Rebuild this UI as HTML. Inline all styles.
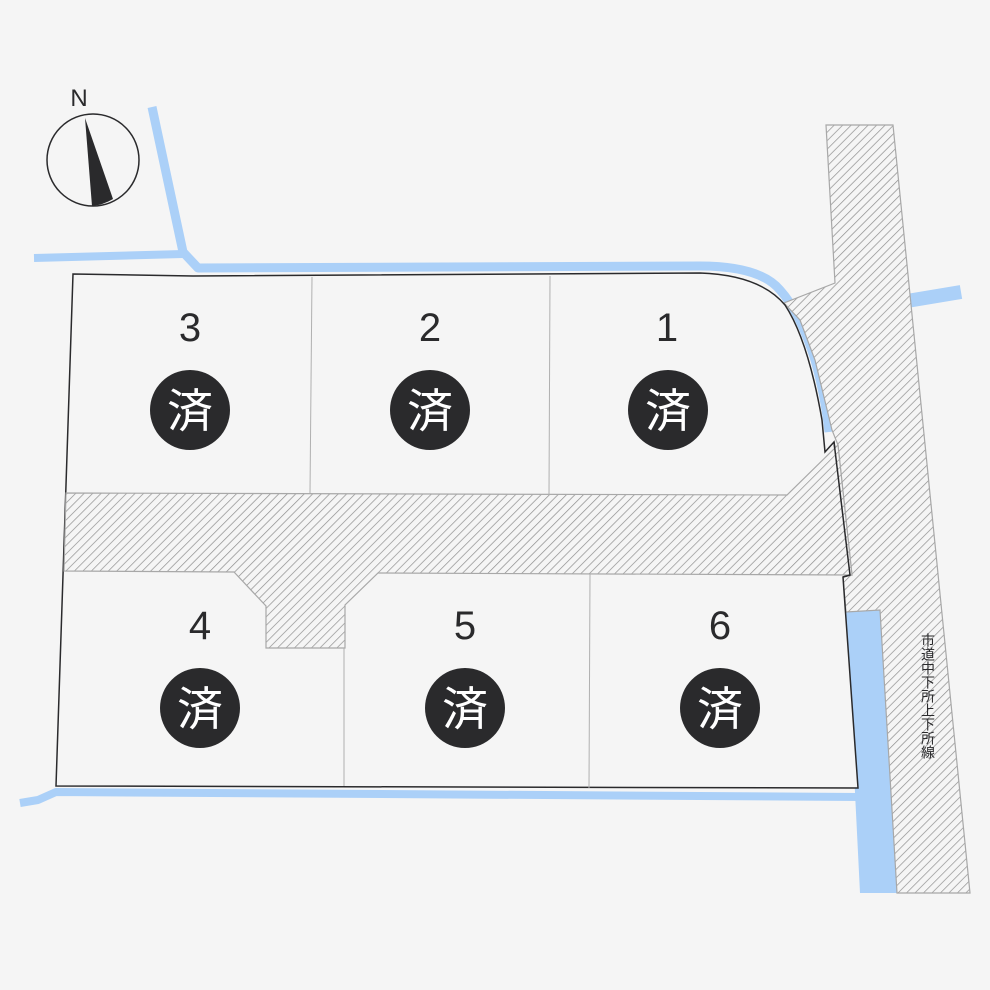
<!DOCTYPE html>
<html><head><meta charset="utf-8"><style>
html,body{margin:0;padding:0;background:#f5f5f5;}
svg{display:block}
.n{font-family:"Liberation Sans","Noto Sans CJK JP",sans-serif;font-size:40px;fill:#2a2a2c;text-anchor:middle}
.k{font-family:"Noto Sans CJK JP",sans-serif;font-size:46px;fill:#fff;text-anchor:middle}
</style></head><body>
<svg width="990" height="990" viewBox="0 0 990 990" xmlns="http://www.w3.org/2000/svg">
<defs>
<pattern id="h" width="6" height="6" patternUnits="userSpaceOnUse" patternTransform="rotate(45)">
<rect width="6" height="6" fill="#f5f5f5"/><line x1="0" y1="0" x2="0" y2="6" stroke="#8e8e8e" stroke-width="1.4"/>
</pattern>
</defs>
<rect width="990" height="990" fill="#f5f5f5"/>
<text x="79" y="106" font-family="Liberation Sans,sans-serif" font-size="24" fill="#2a2a2c" text-anchor="middle">N</text>
<circle cx="93" cy="160" r="46" fill="none" stroke="#2a2a2c" stroke-width="1.5"/>
<path d="M85,118 L113,199 Q103,205 92,206 Z" fill="#2a2a2c"/>
<g fill="none" stroke="#abd0f8" stroke-linejoin="round">
<path d="M152,107 L183,252 L198,268 L700,266 Q760,266 780,290 Q800,312 815,360 Q825,395 829,432" stroke-width="9"/>
<path d="M34,258 L183,254" stroke-width="8"/>
<path d="M907,301 L961,292" stroke-width="14"/>
<path d="M20,803 L38,800 L56,792 L860,797" stroke-width="8"/>
</g>
<polygon points="846,612 880,610 897,893 860,893" fill="#abd0f8"/>
<polygon points="826,125 893,125 970,893 897,893 880,610 846,612 843,577 852,575 838,445 832,430 815,360 800,320 784,303 835,283" fill="url(#h)" stroke="#a8a8a8" stroke-width="1.2"/>
<path d="M73,274 L193,276 L700,273 Q760,275 785,305 Q808,340 822,420 L825,452 L834,442 L850,575 L843,577 L858,788 L56,786 Z" fill="#f5f5f5" stroke="#2a2a2c" stroke-width="1.5"/>
<polygon points="66,493 787,495 838,445 852,575 378,573 345,605 345,648 266,648 266,606 234,572 64,571" fill="url(#h)" stroke="#a8a8a8" stroke-width="1.2"/>
<path d="M834,442 L850,575 L843,577" fill="none" stroke="#2a2a2c" stroke-width="1.5"/>
<g stroke="#b0b0b0" stroke-width="1">
<line x1="312" y1="277" x2="310" y2="493"/>
<line x1="550" y1="276" x2="549" y2="495"/>
<line x1="344" y1="648" x2="344" y2="786"/>
<line x1="590" y1="574" x2="589" y2="788"/>
</g>
<text class="n" x="190" y="341">3</text>
<text class="n" x="430" y="341">2</text>
<text class="n" x="667" y="341">1</text>
<text class="n" x="200" y="639">4</text>
<text class="n" x="465" y="639">5</text>
<text class="n" x="720" y="639">6</text>
<g fill="#2a2a2c">
<circle cx="190" cy="410" r="40"/><circle cx="430" cy="410" r="40"/><circle cx="668" cy="410" r="40"/>
<circle cx="200" cy="708" r="40"/><circle cx="465" cy="708" r="40"/><circle cx="720" cy="708" r="40"/>
</g>
<text class="k" x="190" y="427">済</text>
<text class="k" x="430" y="427">済</text>
<text class="k" x="668" y="427">済</text>
<text class="k" x="200" y="725">済</text>
<text class="k" x="465" y="725">済</text>
<text class="k" x="720" y="725">済</text>
<text x="928" y="633" font-family="Noto Sans CJK JP,sans-serif" font-size="14" fill="#2a2a2c" style="writing-mode:vertical-rl;text-orientation:upright">市道中下所上下所線</text>
</svg>
</body></html>
